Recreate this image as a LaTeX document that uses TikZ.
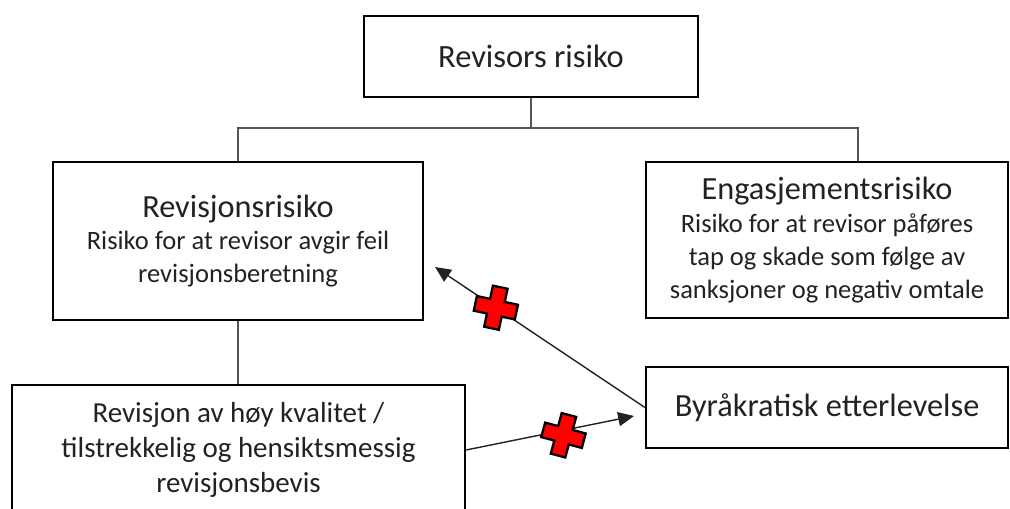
\documentclass[tikz,border=0pt]{standalone}
\usepackage{fontspec}
\setmainfont{Carlito}
\usepackage{tikz}
\usetikzlibrary{arrows.meta,calc}

\definecolor{inkgray}{HTML}{222222}
\definecolor{linkgray}{HTML}{555555}
\definecolor{crossred}{HTML}{FF0000}

\newcommand{\titlefont}{\fontsize{18.4}{21}\selectfont}
\newcommand{\bodyfont}{\fontsize{15.1}{18.7}\selectfont}

\tikzset{
    box/.style={draw,line width=1.3pt,inner sep=0,align=center,text=inkgray},
    link/.style={draw=linkgray,line width=0.6pt},
    arrow/.style={draw=inkgray,line width=0.8pt,-{Triangle[length=9pt,width=8pt]}},
    redcross/.pic={
        \draw[fill=crossred,line width=1.3pt,line join=miter]
        (-7.5,-21)--(7.5,-21)--(7.5,-7.5)--(21,-7.5)--(21,7.5)--(7.5,7.5)--(7.5,21)
        --(-7.5,21)--(-7.5,7.5)--(-21,7.5)--(-21,-7.5)--(-7.5,-7.5)--cycle;
    }
}

\begin{document}
\begin{tikzpicture}[x=0.02cm,y=-0.02cm]
    \useasboundingbox (0,0) rectangle (1010,509);
    % boxes
    \node[box,minimum width=6.68cm,minimum height=1.62cm,
        font=\fontsize{18.5}{21}\selectfont]
        (top) at (531,56.5) {Revisors risiko};
    \node[box,minimum width=7.4cm,minimum height=3.16cm,font=\bodyfont]
        (rr) at (238,241) {{\titlefont Revisjonsrisiko}\\
        Risiko for at revisor avgir feil\\revisjonsberetning};
    \node[box,minimum width=7.24cm,minimum height=3.12cm,font=\bodyfont]
        (er) at (827,240) {{\titlefont Engasjementsrisiko}\\
        Risiko for at revisor påføres\\tap og skade som følge av\\
        sanksjoner og negativ omtale};
    \node[box,minimum width=7.24cm,minimum height=1.62cm,font=\titlefont]
        (byr) at (827,407.5) {Byråkratisk etterlevelse};
    \node[box,minimum width=9.06cm,minimum height=2.6cm,
        font=\fontsize{16.5}{19.8}\selectfont]
        (kval) at (238.5,450) {Revisjon av høy kvalitet /\\
        tilstrekkelig og hensiktsmessig\\revisjonsbevis};
    % tree lines
    \coordinate (fork) at (531,128);
    \draw[link] (top.south) -- (fork);
    \draw[link] (rr.north) |- (fork) -| ([xshift=0.62cm]er.north);
    \draw[link] (rr.south) -- (rr.south |- kval.north);
    % arrows
    \coordinate (rrtip) at (435,267);
    \coordinate (byrtip) at (634,416);
    \draw[arrow] (byr.west) -- coordinate[pos=0.71] (x1) (rrtip);
    \draw[arrow] (kval.east) -- coordinate[pos=0.58] (x2) (byrtip);
    \pic[rotate=-12] at (x1) {redcross};
    \pic[rotate=-15] at ([yshift=-0.1cm]x2) {redcross};
\end{tikzpicture}
\end{document}
